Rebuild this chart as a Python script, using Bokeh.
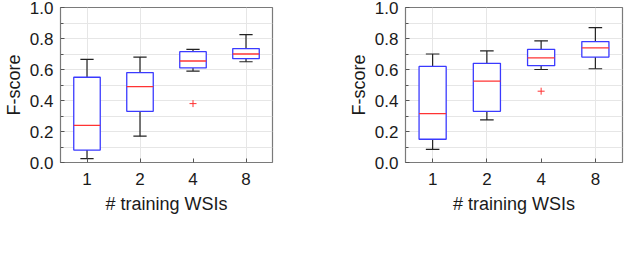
from bokeh.plotting import figure
from bokeh.layouts import row
from bokeh.models import (ColumnDataSource, FixedTicker, PrintfTickFormatter, Label, FactorRange, Range1d)
from bokeh.transform import dodge
from bokeh.embed import file_html
from bokeh.resources import INLINE

factors = ["1", "2", "4", "8"]
y_ticks = [0.0, 0.2, 0.4, 0.6, 0.8, 1.0]
y_minor = [0.1, 0.3, 0.5, 0.7, 0.9]

# (a) pixel-level F1
pix_q1 = [0.08, 0.33, 0.61, 0.67]
pix_q3 = [0.55, 0.58, 0.715, 0.735]
pix_med = [0.24, 0.49, 0.655, 0.70]
pix_lo = [0.025, 0.17, 0.59, 0.65]
pix_hi = [0.665, 0.68, 0.73, 0.825]
pix_out_x = ["4"]
pix_out_y = [0.38]

# (b) object-level F1
obj_q1 = [0.15, 0.33, 0.625, 0.68]
obj_q3 = [0.62, 0.64, 0.73, 0.78]
obj_med = [0.315, 0.525, 0.675, 0.74]
obj_lo = [0.085, 0.275, 0.60, 0.605]
obj_hi = [0.70, 0.72, 0.785, 0.87]
obj_out_x = ["4"]
obj_out_y = [0.46]

SANS = "Liberation Sans"
SERIF = "Liberation Serif"
TXT = "#1a1a1a"
BLUE = "#3a3aff"
RED = "#ff3333"
GRID = "#e6e6e6"


def make(q1, q3, med, lo, hi, ox, oy, caption, width, bl, br, cap_offset):
    p = figure(x_range=FactorRange(factors=factors, range_padding=0), y_range=Range1d(0, 1.0),
               width=width, height=240, output_backend="svg", toolbar_location=None,
               min_border_left=bl, min_border_right=br, min_border_top=7, min_border_bottom=78)
    src = ColumnDataSource(dict(x=factors, q1=q1, q3=q3, med=med, lo=lo, hi=hi))
    p.outline_line_color = "#7a7a7a"
    p.outline_line_width = 1.2
    p.background_fill_color = "white"
    p.border_fill_color = "white"

    p.xgrid.grid_line_color = GRID
    p.ygrid.grid_line_color = GRID
    p.ygrid.minor_grid_line_color = GRID

    p.yaxis.ticker = FixedTicker(ticks=y_ticks, minor_ticks=y_minor)
    p.yaxis.formatter = PrintfTickFormatter(format="%.1f")
    for ax in (p.xaxis[0], p.yaxis[0]):
        ax.axis_line_color = None
        ax.major_tick_in = 4
        ax.major_tick_out = 0
        ax.minor_tick_in = 3
        ax.minor_tick_out = 0
        ax.major_tick_line_color = "#555555"
        ax.minor_tick_line_color = "#555555"
        ax.major_label_text_font = SANS
        ax.major_label_text_font_size = "17px"
        ax.major_label_text_color = TXT
        ax.axis_label_text_font = SANS
        ax.axis_label_text_font_size = "18px"
        ax.axis_label_text_font_style = "normal"
        ax.axis_label_text_color = TXT
    p.xaxis.major_label_standoff = 10
    p.yaxis.major_label_standoff = 7
    p.xaxis.axis_label = "# training WSIs"
    p.xaxis.axis_label_standoff = 6
    p.yaxis.axis_label = "F-score"
    p.yaxis.axis_label_standoff = 3

    # whiskers
    p.segment(x0="x", y0="q3", x1="x", y1="hi", source=src, line_color="#222222", line_width=1.2)
    p.segment(x0="x", y0="q1", x1="x", y1="lo", source=src, line_color="#222222", line_width=1.2)
    p.segment(x0=dodge("x", -0.125, range=p.x_range), y0="hi", x1=dodge("x", 0.125, range=p.x_range),
              y1="hi", source=src, line_color="#222222", line_width=1.2)
    p.segment(x0=dodge("x", -0.125, range=p.x_range), y0="lo", x1=dodge("x", 0.125, range=p.x_range),
              y1="lo", source=src, line_color="#222222", line_width=1.2)
    # boxes
    p.vbar(x="x", width=0.5, bottom="q1", top="q3", source=src, fill_color="white",
           line_color=BLUE, line_width=1.3)
    # medians
    p.segment(x0=dodge("x", -0.25, range=p.x_range), y0="med", x1=dodge("x", 0.25, range=p.x_range),
              y1="med", source=src, line_color=RED, line_width=1.3)
    # outliers
    p.scatter(x=ox, y=oy, marker="cross", size=7, line_color=RED, line_width=1)

    # caption below the axis title
    cap = Label(x=0, y=-0.394, x_offset=cap_offset, text=caption, text_font=SERIF,
                text_font_size="17.5px", text_color=TXT, text_baseline="middle", text_align="left")
    p.add_layout(cap)
    return p


pa = make(pix_q1, pix_q3, pix_med, pix_lo, pix_hi, pix_out_x, pix_out_y,
          "(a) F\u2081-pixel-level (F)", 312, 54, 40, -10)
pb = make(obj_q1, obj_q3, obj_med, obj_lo, obj_hi, obj_out_x, obj_out_y,
          "(b) F\u2081-object-level (F\u2092)", 312, 93, 2, -72)

layout = row(pa, pb, spacing=0)
open("out.html", "w").write(file_html(layout, INLINE))
